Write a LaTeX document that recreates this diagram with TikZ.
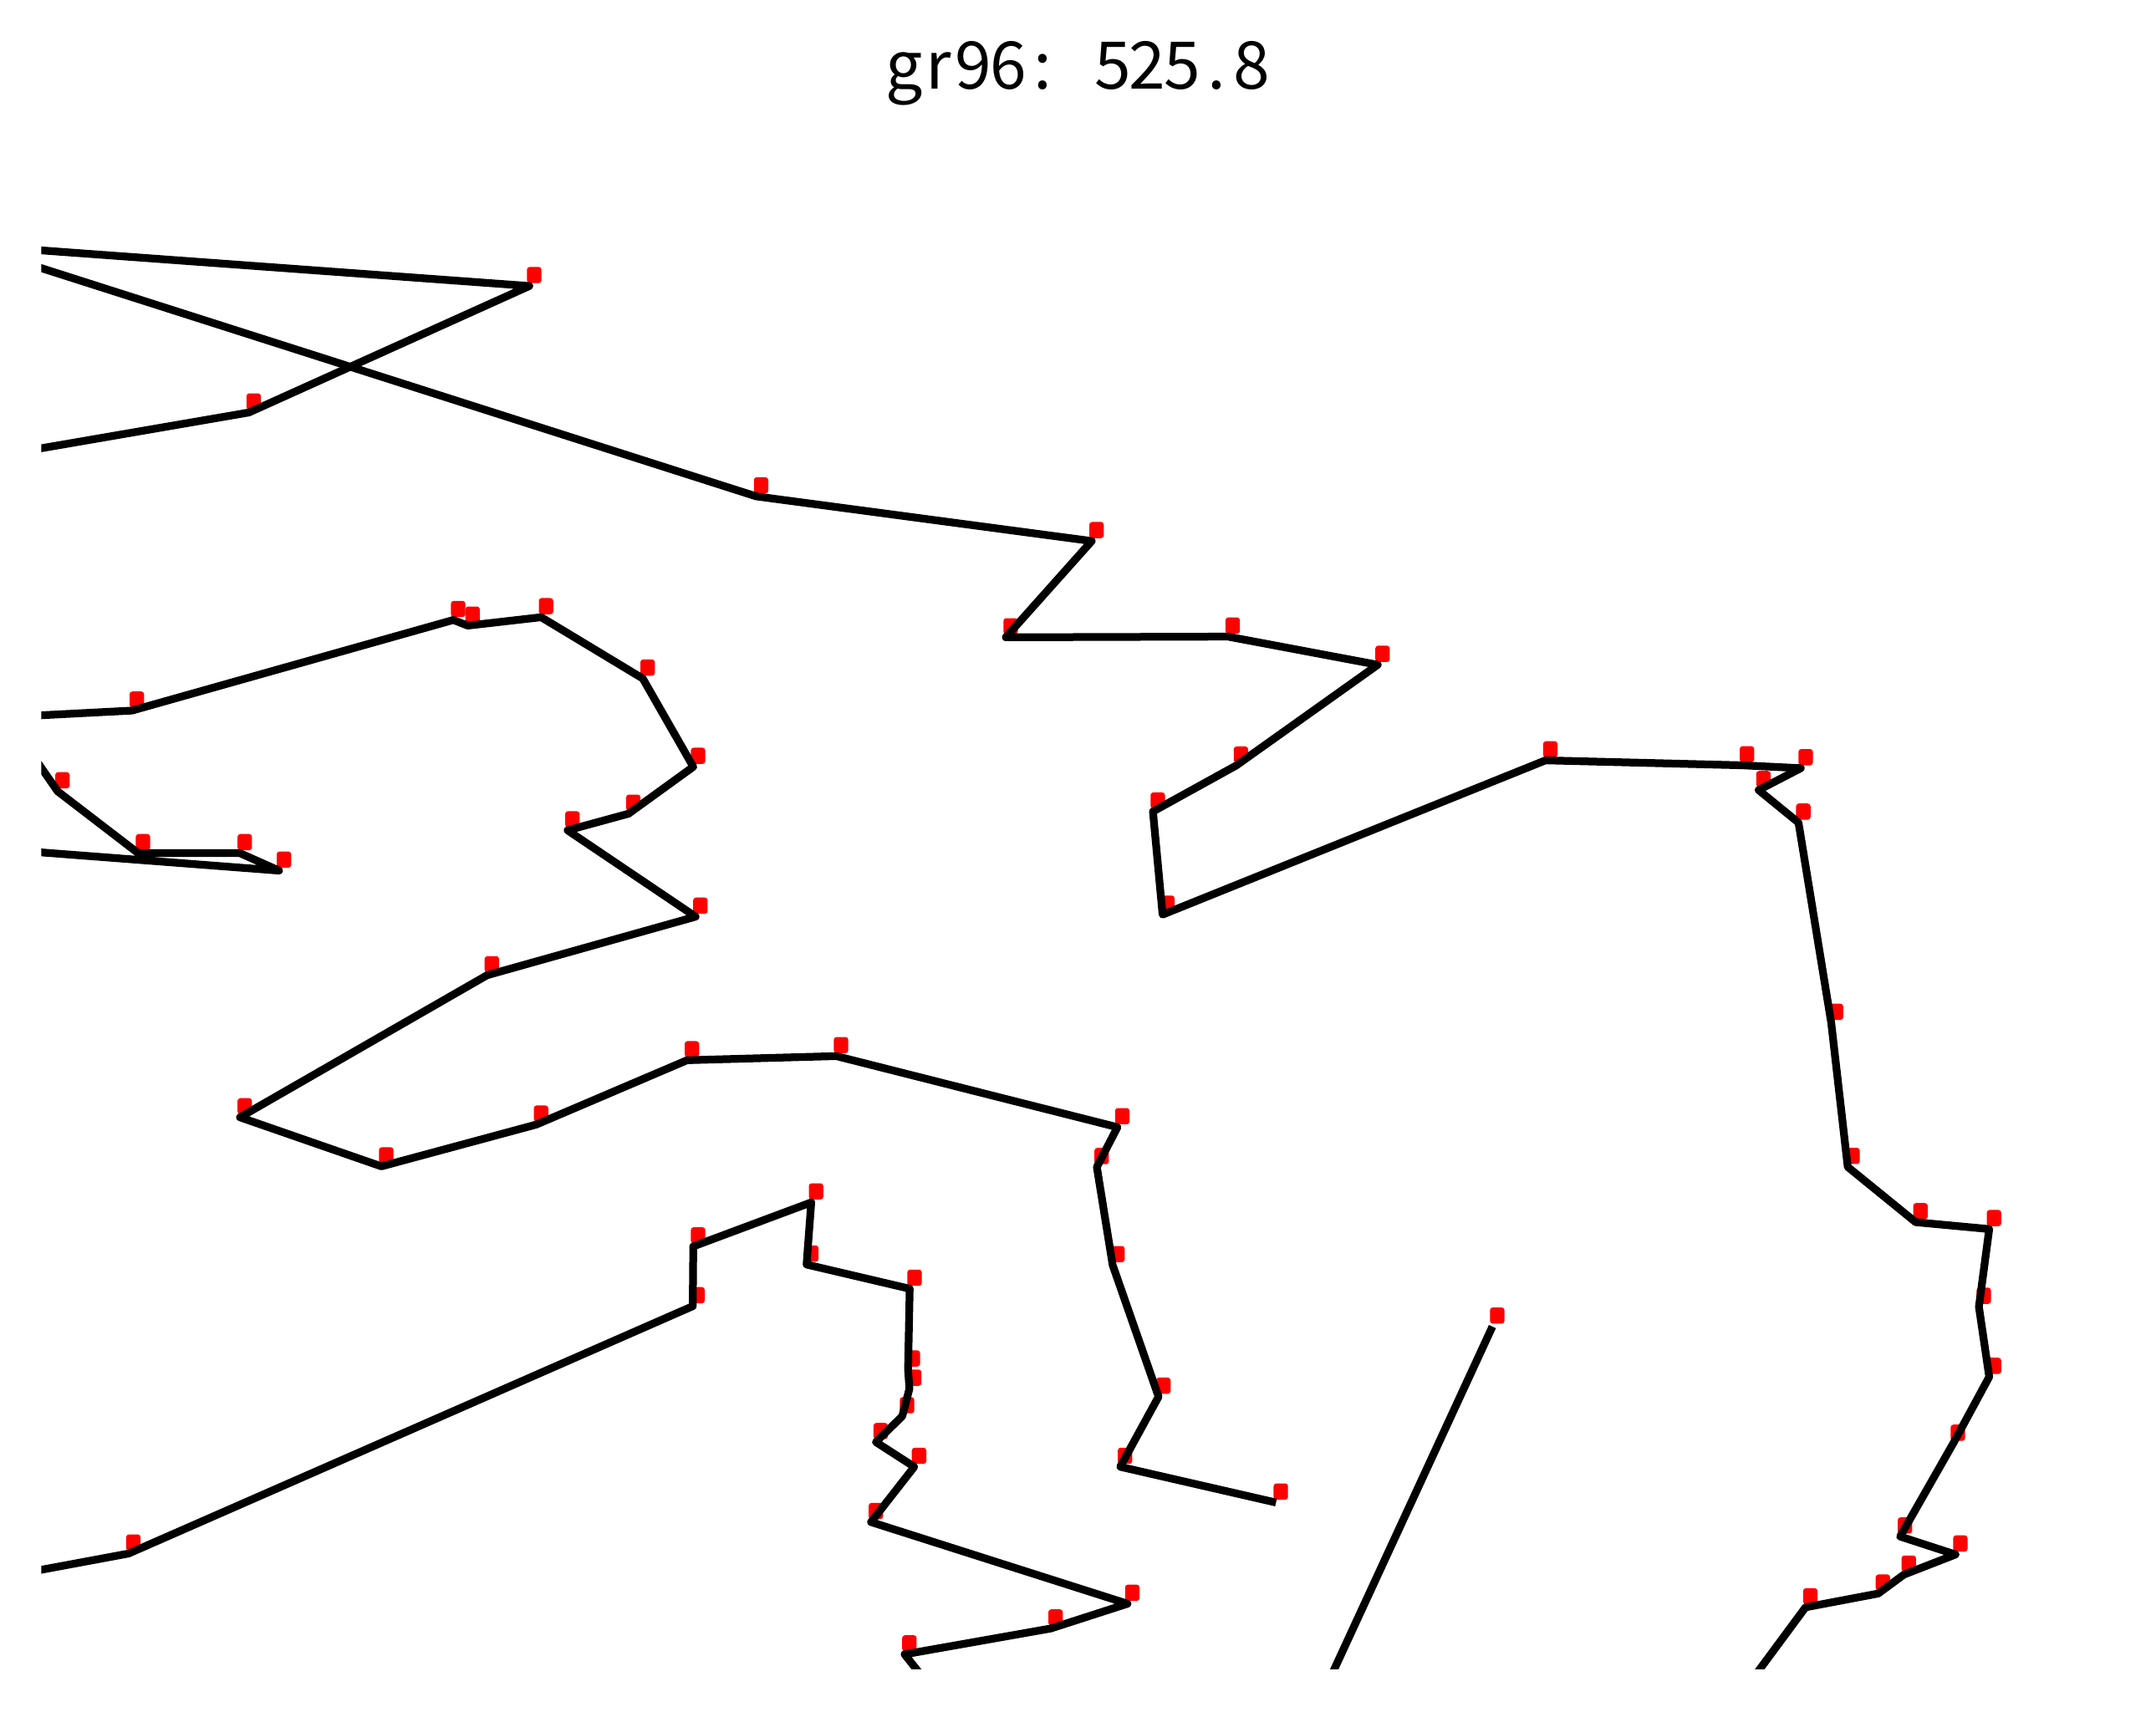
\documentclass[tikz,border=0pt]{standalone}
\usepackage{fontspec}
\newfontfamily\cjkfont{Noto Sans CJK SC}
\newcommand{\mch}[1]{\makebox[2.53mm][c]{#1}}

\begin{document}
\begin{tikzpicture}[x=0.1mm,y=-0.1mm,
    tour/.style={line width=1.6pt,line join=round},
    city/.style={rectangle,fill=red,inner sep=0pt,minimum width=1.05mm,minimum height=1.18mm,rounded corners=0.2mm}]

    \useasboundingbox (0,0) rectangle (1568,1245);

    \node[anchor=base,inner sep=0pt,font=\cjkfont\fontsize{13.6pt}{13.6pt}\selectfont] (title) at (784,65)
        {\mch{g}\mch{r}\mch{9}\mch{6}\mch{:}\mch{ }\mch{5}\mch{2}\mch{5}\mch{.}\mch{8}};

    % cities, one list per piece of the tour (0 and last may lie outside the frame)
    \foreach \i/\x/\y in {0/15/181, 1/385/208, 2/181/300, 3/15/328.6}
        \coordinate (A\i) at (\x,\y);
    \foreach \i/\x/\y in {0/15/190.2, 1/550/361, 2/794/393.5, 3/731.5/463.5, 4/893/463,
        5/1002/483.5, 6/899/556.8, 7/838.5/590.2, 8/845.5/665.2, 9/1124/553,
        10/1267/556.6, 11/1309.7/558.7, 12/1279/574.6, 13/1308/598.3, 14/1331.8/743.9,
        15/1343.8/848.7, 16/1393.2/888.9, 17/1446.7/893.9, 18/1439.2/950.4, 19/1446.7/1001.4,
        20/1420.4/1050, 21/1381.9/1117.5, 22/1422.2/1130.6, 23/1384.7/1145.2, 24/1365.9/1159,
        25/1313.1/1169, 26/1268/1230}
        \coordinate (B\i) at (\x,\y);
    \foreach \i/\x/\y in {0/15/521, 1/96/516.8, 2/329.7/450.9, 3/340.2/455, 4/393.6/448.9,
        5/467.5/493.5, 6/504.2/557.7, 7/457.1/591.8, 8/412.8/603.9, 9/505.9/666.7,
        10/354.2/709.3, 11/174.5/812.6, 12/277.4/848.3, 13/390/817.9, 14/499.7/771.1,
        15/608.2/768.1, 16/812.7/819.8, 17/797.7/848.8, 18/809.2/920.1, 19/842.6/1015.8,
        20/814.7/1066.8, 21/928/1092.8}
        \coordinate (C\i) at (\x,\y);
    \foreach \i/\x/\y in {0/15/618.8, 1/203/633.2, 2/174.5/620.5, 3/100.5/620.5, 4/41.9/575.5, 5/18/541}
        \coordinate (D\i) at (\x,\y);
    \foreach \i/\x/\y in {0/15/1144.5, 1/93.5/1129.9, 2/503.8/950, 3/504.2/906.5, 4/590/874.5,
        5/586.6/919.7, 6/661.6/937.3, 7/660.4/996, 8/661.4/1010, 9/656.2/1030,
        10/637/1048.8, 11/664.9/1066.8, 12/633.5/1107, 13/820/1166.4, 14/764.2/1184.4,
        15/657.9/1203.2, 16/676/1226}
        \coordinate (E\i) at (\x,\y);
    \coordinate (F1) at (1085.4,964.8);
    \coordinate (F2) at (963,1230);

    % red marks, just above right of each city
    \foreach \p/\n in {A/2, B/25, C/21, D/4, E/15}
        \foreach \i in {1,...,\n}
            \node[city] (m\p\i) at ([shift={(3.5,-8)}]\p\i) {};
    \node[city] (mF1) at ([shift={(3.5,-8)}]F1) {};

    \begin{scope}
        \clip (30,0) rectangle (1568,1214);
        \draw[tour] (A0) \foreach \i in {1,...,3}{ -- (A\i)};
        \draw[tour] (B0) \foreach \i in {1,...,26}{ -- (B\i)};
        \draw[tour] (C0) \foreach \i in {1,...,21}{ -- (C\i)};
        \draw[tour] (D0) \foreach \i in {1,...,5}{ -- (D\i)};
        \draw[tour] (E0) \foreach \i in {1,...,16}{ -- (E\i)};
        \draw[tour] (F1) -- (F2);
    \end{scope}

\end{tikzpicture}
\end{document}
